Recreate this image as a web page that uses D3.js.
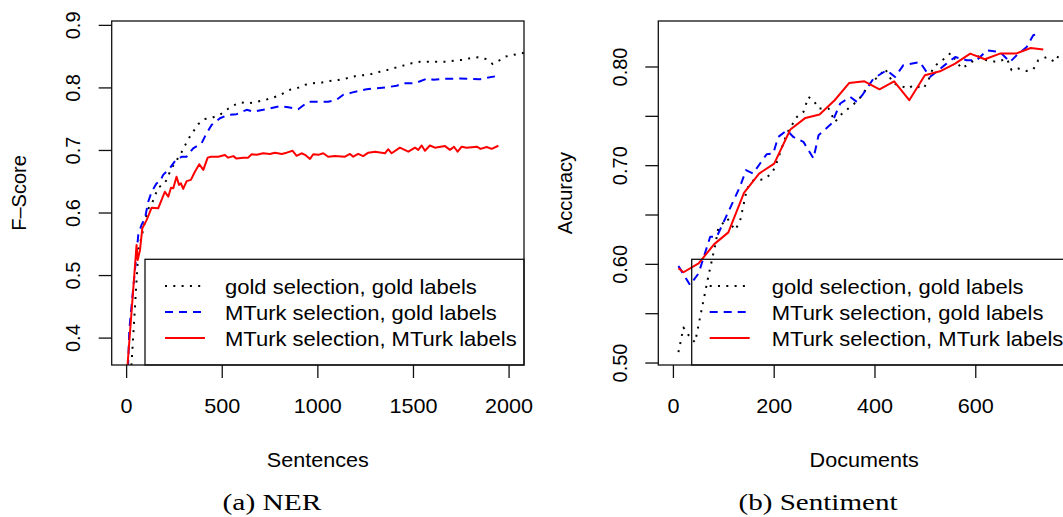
<!DOCTYPE html>
<html>
<head>
<meta charset="utf-8">
<script src="https://cdn.jsdelivr.net/npm/d3@7"></script>
<style>
  body { margin: 0; background: #fff; }
  svg text { font-family: "Liberation Sans", Arial, sans-serif; fill: #000; }
</style>
</head>
<body>
<svg id="chart" width="1063" height="517"></svg>
<script>
// NER panel: F-score vs number of sentences
const nerGoldX = [20, 61, 82, 110, 136, 165, 200, 235, 284, 322, 374, 404, 448, 488, 523, 558, 598, 640, 685, 727,
  767, 811, 854, 892, 933, 976, 1020, 1063, 1107, 1151, 1194, 1237, 1281, 1325, 1363, 1407, 1447, 1491, 1534, 1621,
  1665, 1752, 1796, 1839, 1883, 1914, 1944, 1979, 2022, 2066, 2110];
const nerGoldY = [0.33, 0.538, 0.5675, 0.605, 0.618, 0.6405, 0.6475, 0.6715, 0.695, 0.718, 0.742, 0.75, 0.7525, 0.757, 0.765, 0.772, 0.777, 0.7755, 0.778, 0.781,
  0.7845, 0.79, 0.797, 0.7995, 0.805, 0.8075, 0.8085, 0.811, 0.8128, 0.8155, 0.8187, 0.8203, 0.8224, 0.826, 0.8288, 0.8325, 0.8357, 0.8395, 0.842, 0.842,
  0.842, 0.8448, 0.8475, 0.849, 0.846, 0.8384, 0.843, 0.85, 0.8528, 0.8555, 0.858];

const nerMturkSelX = [5, 14, 61, 78, 96, 113, 131, 157, 174, 191, 226, 253, 288, 314, 348, 392, 418, 445, 488, 531,
  575, 628, 662, 714, 802, 845, 897, 950, 1054, 1098, 1133, 1177, 1255, 1308, 1360, 1412, 1447, 1508, 1577, 1604,
  1665, 1743, 1848, 1944];
const nerMturkSelY = [0.33, 0.413, 0.565, 0.581, 0.5915, 0.618, 0.634, 0.6475, 0.65, 0.661, 0.6715, 0.683, 0.69, 0.69, 0.7035, 0.7115, 0.7275, 0.741, 0.7515, 0.757,
  0.758, 0.765, 0.762, 0.765, 0.771, 0.769, 0.766, 0.778, 0.778, 0.781, 0.789, 0.7925, 0.798, 0.7995, 0.801, 0.8035, 0.8075, 0.8075, 0.8155, 0.813,
  0.8145, 0.815, 0.814, 0.8195];

const nerMturkX = [2, 52, 58, 70, 82, 105, 131, 165, 183, 200, 218, 232, 244, 261, 274, 284, 296, 314, 336, 357,
  380, 401, 424, 441, 479, 514, 531, 558, 575, 610, 636, 654, 680, 714, 749, 776, 811, 837, 868, 889,
  915, 933, 959, 976, 1002, 1028, 1054, 1089, 1142, 1168, 1185, 1211, 1237, 1264, 1299, 1351, 1368, 1386, 1429, 1473,
  1508, 1525, 1543, 1560, 1586, 1612, 1665, 1691, 1712, 1731, 1752, 1778, 1831, 1851, 1883, 1909, 1944];
const nerMturkY = [0.345, 0.549, 0.525, 0.541, 0.5755, 0.589, 0.6085, 0.6075, 0.621, 0.634, 0.626, 0.6405, 0.6395, 0.658, 0.645, 0.6475, 0.6385, 0.651, 0.653, 0.666,
  0.678, 0.669, 0.6885, 0.69, 0.69, 0.6928, 0.6885, 0.691, 0.687, 0.6885, 0.6885, 0.694, 0.693, 0.6955, 0.6945, 0.6965, 0.6945, 0.6965, 0.6995, 0.6915,
  0.6955, 0.693, 0.6865, 0.694, 0.693, 0.6955, 0.69, 0.691, 0.69, 0.6945, 0.69, 0.6945, 0.691, 0.6965, 0.698, 0.6955, 0.702, 0.6955, 0.7045, 0.698,
  0.7045, 0.701, 0.708, 0.6995, 0.708, 0.7045, 0.707, 0.701, 0.706, 0.698, 0.706, 0.7045, 0.706, 0.7025, 0.7055, 0.7025, 0.7075];

// Sentiment panel: accuracy vs number of documents
const sentGoldX = [10, 20, 33, 43, 54, 69, 83, 89, 107, 122, 132, 146, 159, 179, 195, 202, 225, 245, 258, 268,
  278, 288, 308, 321, 331, 347, 367, 390, 410, 420, 427, 437, 466, 476, 496, 506, 516, 542, 550, 562,
  572, 592, 605, 622, 642, 662, 671, 685, 701, 714, 724, 741, 757, 767, 790];
const sentGoldY = [0.511, 0.536, 0.526, 0.521, 0.549, 0.587, 0.6196, 0.6364, 0.6466, 0.6347, 0.6431, 0.6769, 0.6853, 0.686, 0.6921, 0.6988, 0.7326, 0.7494, 0.7545, 0.7696,
  0.7663, 0.7579, 0.7579, 0.7443, 0.7511, 0.7579, 0.7663, 0.7832, 0.7916, 0.7984, 0.7916, 0.7832, 0.7781, 0.7815, 0.7781, 0.7865, 0.8, 0.8101, 0.8142, 0.8051,
  0.7984, 0.8051, 0.8108, 0.8068, 0.8051, 0.8085, 0.7967, 0.7984, 0.796, 0.7974, 0.8068, 0.8101, 0.8051, 0.8136, 0.812];

const sentMturkSelX = [10, 33, 50, 73, 86, 103, 132, 144, 158, 172, 185, 198, 208, 225, 238, 258, 278, 288, 314, 331,
  351, 364, 377, 397, 423, 440, 456, 489, 509, 542, 559, 582, 602, 622, 648, 668, 681, 701, 714, 724];
const sentMturkSelY = [0.5983, 0.579, 0.5909, 0.628, 0.628, 0.6466, 0.6786, 0.6955, 0.6921, 0.7022, 0.7116, 0.7123, 0.7291, 0.7359, 0.7291, 0.7241, 0.7073, 0.7309, 0.7427, 0.763,
  0.7696, 0.7646, 0.7731, 0.7883, 0.7967, 0.7899, 0.8017, 0.8051, 0.7899, 0.8034, 0.8101, 0.8068, 0.8068, 0.8169, 0.8152, 0.8051, 0.8118, 0.8202, 0.8321, 0.8338];

const sentMturkX = [10, 20, 50, 81, 109, 140, 170, 200, 232, 262, 290, 320, 349, 379, 409, 438, 468, 499, 529, 559,
  589, 618, 648, 680, 709, 734];
const sentMturkY = [0.596, 0.592, 0.601, 0.6205, 0.6324, 0.6725, 0.692, 0.702, 0.7366, 0.7484, 0.7518, 0.7663, 0.7838, 0.7855, 0.7774, 0.7855, 0.7663, 0.7916, 0.7956, 0.8034,
  0.8136, 0.8078, 0.8136, 0.8136, 0.8192, 0.8176];

const legendLabels = ['gold selection, gold labels', 'MTurk selection, gold labels', 'MTurk selection, MTurk labels'];

const nerXTicks = [0, 500, 1000, 1500, 2000];
const nerYTicks = [0.4, 0.5, 0.6, 0.7, 0.8, 0.9];
const sentXTicks = [0, 200, 400, 600];
const sentYTicks = [0.50, 0.55, 0.60, 0.65, 0.70, 0.75, 0.80];
const sentYLabels = [0.50, 0.60, 0.70, 0.80];

const styles = [
  { color: '#000', width: 2, dash: '2,6.3' },
  { color: '#0000ff', width: 2, dash: '8,6' },
  { color: '#ff0000', width: 2, dash: null },
];

const SX = 1.08; // horizontal stretch of the original figure text
const svg = d3.select('#chart');

function hText(g, x, y, str, size, anchor, sx) {
  return g.append('text')
    .attr('transform', `translate(${x},${y}) scale(${sx || SX},1)`)
    .attr('text-anchor', anchor || 'middle')
    .style('font-size', size + 'px')
    .text(str);
}

function vText(g, x, y, str, size) {
  return g.append('text')
    .attr('transform', `translate(${x},${y}) rotate(-90)`)
    .attr('text-anchor', 'middle')
    .style('font-size', size + 'px')
    .text(str);
}

function drawPanel(cfg) {
  const x = d3.scaleLinear().domain(cfg.xDomain).range([cfg.left, cfg.right]);
  const y = d3.scaleLinear().domain(cfg.yDomain).range([365, 21]);
  const g = svg.append('g');

  const clipId = 'clip-' + cfg.id;
  svg.append('clipPath').attr('id', clipId)
    .append('rect')
    .attr('x', cfg.left).attr('y', 21)
    .attr('width', cfg.right - cfg.left).attr('height', 344);

  const line = d3.line().x(d => x(d[0])).y(d => y(d[1]));
  const lines = g.append('g').attr('clip-path', `url(#${clipId})`);
  cfg.series.forEach((s, i) => {
    lines.append('path')
      .datum(d3.zip(s[0], s[1]))
      .attr('d', line)
      .attr('fill', 'none')
      .attr('stroke', styles[i].color)
      .attr('stroke-width', styles[i].width)
      .attr('stroke-dasharray', styles[i].dash)
      .attr('stroke-linejoin', 'round');
  });

  // box
  g.append('rect')
    .attr('x', cfg.left).attr('y', 21)
    .attr('width', cfg.right - cfg.left).attr('height', 344)
    .attr('fill', 'none').attr('stroke', '#111').attr('stroke-width', 1.3);

  // x axis
  const xa = g.append('g');
  cfg.xTicks.forEach(t => {
    const px = x(t);
    xa.append('line').attr('x1', px).attr('x2', px).attr('y1', 365).attr('y2', 378)
      .attr('stroke', '#111').attr('stroke-width', 1.3);
    hText(xa, px, 413, d3.format('d')(t), 20);
  });

  // y axis
  const ya = g.append('g');
  cfg.yTicks.forEach(t => {
    const py = y(t);
    ya.append('line').attr('x1', cfg.left - 13).attr('x2', cfg.left).attr('y1', py).attr('y2', py)
      .attr('stroke', '#111').attr('stroke-width', 1.3);
  });
  cfg.yLabels.forEach(t => vText(ya, cfg.yLabelX, y(t), cfg.yFormat(t), 20));

  // titles
  hText(g, (cfg.left + cfg.right) / 2, 467, cfg.xTitle, 20);
  vText(g, cfg.yTitleX, 193, cfg.yTitle, 20);

  // legend
  const lg = g.append('g');
  lg.append('rect')
    .attr('x', cfg.legendX).attr('y', 259.3)
    .attr('width', cfg.right - cfg.legendX).attr('height', 365 - 259.3)
    .attr('fill', 'none').attr('stroke', '#111').attr('stroke-width', 1.3);
  legendLabels.forEach((lab, i) => {
    const by = 294 + i * 26;
    lg.append('line')
      .attr('x1', cfg.legendX + cfg.sampleOff).attr('x2', cfg.legendX + cfg.sampleOff + 40)
      .attr('y1', by - 8).attr('y2', by - 8)
      .attr('stroke', styles[i].color)
      .attr('stroke-width', styles[i].width)
      .attr('stroke-dasharray', styles[i].dash);
    hText(lg, cfg.legendX + 80, by, lab, 20, 'start', 1.1);
  });

  // caption
  g.append('text')
    .attr('x', cfg.capX).attr('y', 510)
    .attr('text-anchor', 'middle')
    .attr('textLength', cfg.capW)
    .attr('lengthAdjust', 'spacingAndGlyphs')
    .style('font-family', '"Liberation Serif", "Times New Roman", serif')
    .style('font-size', '23px')
    .text(cfg.caption);
}

drawPanel({
  id: 'ner', left: 111.7, right: 524,
  xDomain: [-78, 2078], yDomain: [0.357, 0.907],
  xTicks: nerXTicks, yTicks: nerYTicks, yLabels: nerYTicks, yFormat: d3.format('.1f'),
  yLabelX: 80, yTitleX: 25.5,
  xTitle: 'Sentences', yTitle: 'F\u2013Score',
  series: [[nerGoldX, nerGoldY], [nerMturkSelX, nerMturkSelY], [nerMturkX, nerMturkY]],
  legendX: 145, sampleOff: 20,
  caption: '(a) NER', capX: 272, capW: 99,
});

drawPanel({
  id: 'sent', left: 658.3, right: 1070,
  xDomain: [-30, 787], yDomain: [0.498, 0.8466],
  xTicks: sentXTicks, yTicks: sentYTicks, yLabels: sentYLabels, yFormat: d3.format('.2f'),
  yLabelX: 627, yTitleX: 572,
  xTitle: 'Documents', yTitle: 'Accuracy',
  series: [[sentGoldX, sentGoldY], [sentMturkSelX, sentMturkSelY], [sentMturkX, sentMturkY]],
  legendX: 691.7, sampleOff: 18,
  caption: '(b) Sentiment', capX: 818, capW: 159,
});
</script>
</body>
</html>
